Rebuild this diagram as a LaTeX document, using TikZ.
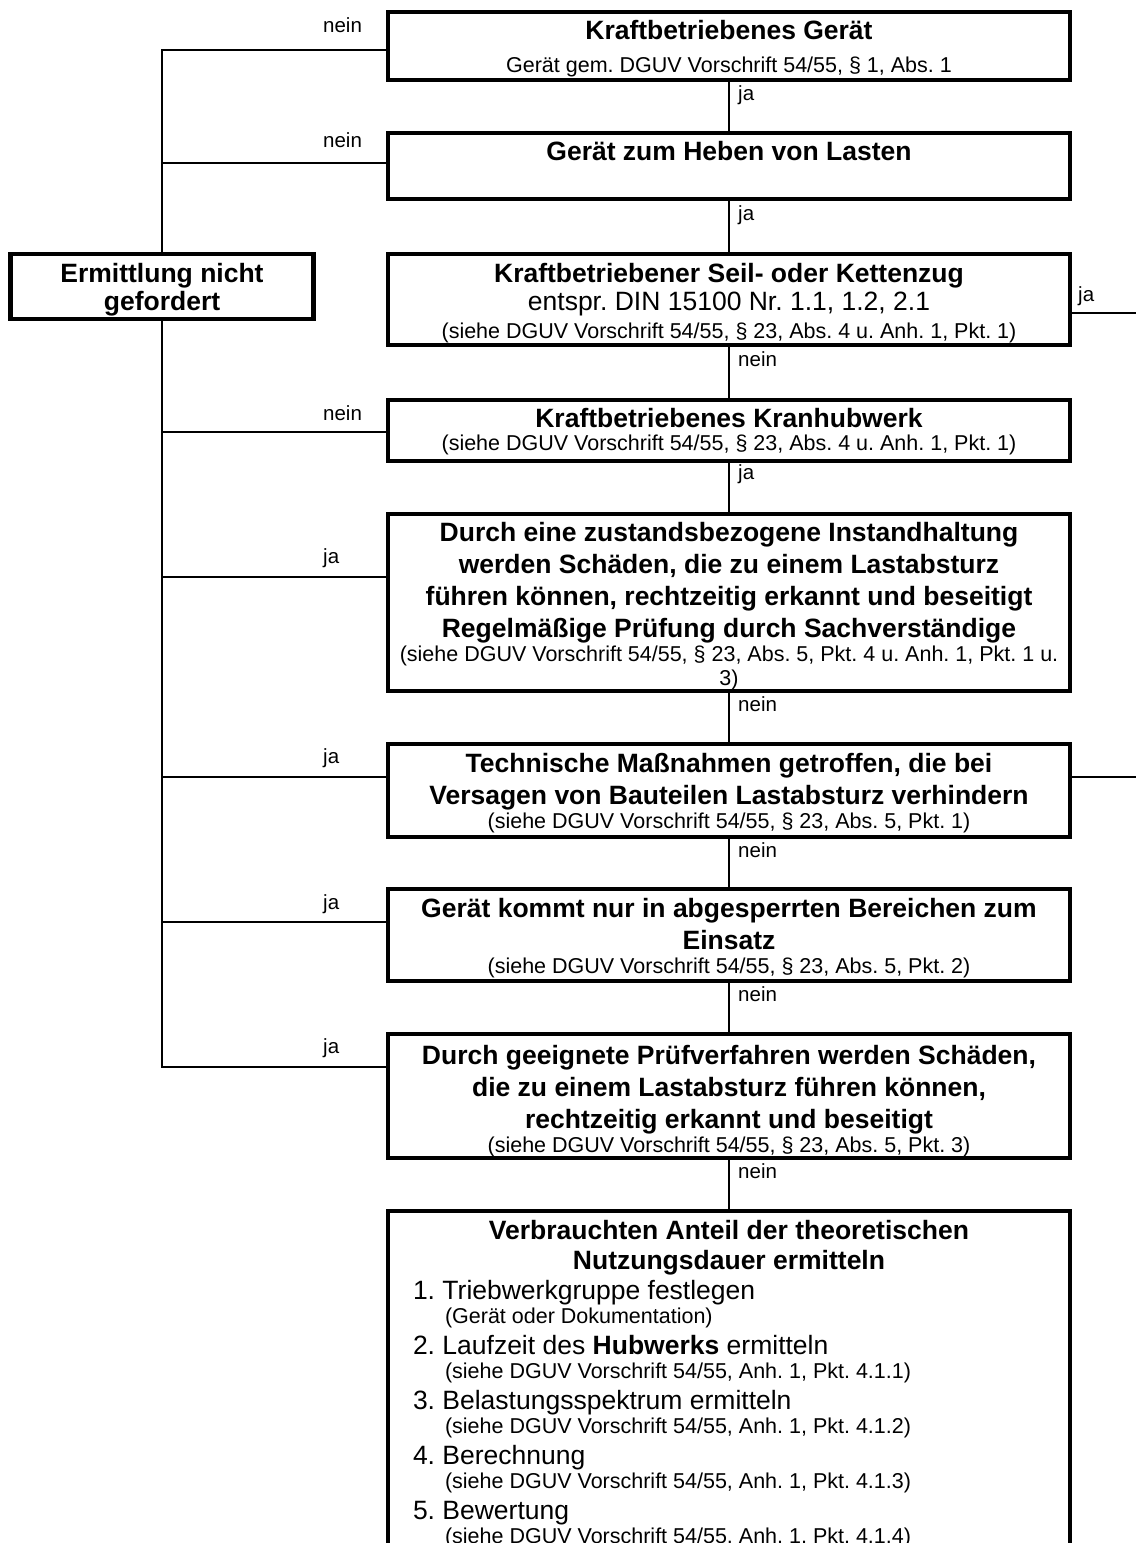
\documentclass[tikz,border=0pt]{standalone}
\usepackage{fontspec}
\setmainfont{Liberation Sans}
\frenchspacing
\newcommand\Tb{\fontsize{26.5}{40}\selectfont\bfseries}
\newcommand\Tr{\fontsize{26.5}{40}\selectfont\mdseries}
\newcommand\Ts{\fontsize{21.5}{40}\selectfont\mdseries}
\newcommand\Ttop[1]{\rule{0pt}{#1pt}}
\newcommand\Tbot[1]{\rule[-#1pt]{0pt}{#1pt}}
\tikzset{
  boxn/.style={draw, line width=4.2pt, fill=white, minimum width=682pt, inner xsep=0pt, inner ysep=0pt,
    align=center, anchor=north, font=\fontsize{21.5}{40}\selectfont\frenchspacing},
  conn/.style={line width=2.3pt},
  lbl/.style={anchor=base west, inner sep=0pt, font=\fontsize{20.5}{24}\selectfont},
}
\begin{document}
\begin{tikzpicture}[x=1pt,y=-1pt]
\useasboundingbox (0,0) rectangle (1136,1543);
\clip (0,0) rectangle (1136,1543);

% main boxes
\node[boxn] (b1) at (729,10) {\Ttop{27}\Tb Kraftbetriebenes Gerät\\[-7pt]\Ts Gerät gem. DGUV Vorschrift 54/55, § 1, Abs. 1\Tbot{8}};
\node[boxn] (b2) at (729,131) {\Ttop{27}\Tb Gerät zum Heben von Lasten\Tbot{39}};
\node[boxn] (b3) at (729,252) {\Ttop{28}\Tb Kraftbetriebener Seil- oder Kettenzug\\[-12pt]\Tr entspr. DIN 15100 Nr. 1.1, 1.2, 2.1\\[-12pt]\Ts (siehe DGUV Vorschrift 54/55, § 23, Abs. 4 u. Anh. 1, Pkt. 1)\Tbot{7}};
\node[boxn] (b4) at (729,398) {\Ttop{27}\Tb Kraftbetriebenes Kranhubwerk\\[-17pt]\Ts (siehe DGUV Vorschrift 54/55, § 23, Abs. 4 u. Anh. 1, Pkt. 1)\Tbot{11}};
\node[boxn] (b5) at (729,512) {\Ttop{27}\Tb Durch eine zustandsbezogene Instandhaltung\\[-8pt]\Tb werden Schäden, die zu einem Lastabsturz\\[-8pt]\Tb führen können, rechtzeitig erkannt und beseitigt\\[-8pt]\Tb Regelmäßige Prüfung durch Sachverständige\\[-16pt]\Ts (siehe DGUV Vorschrift 54/55, § 23, Abs. 5, Pkt. 4 u. Anh. 1, Pkt. 1 u.\\[-16pt]\Ts 3)\Tbot{6}};
\node[boxn] (b6) at (729,742) {\Ttop{28}\Tb Technische Maßnahmen getroffen, die bei\\[-8pt]\Tb Versagen von Bauteilen Lastabsturz verhindern\\[-16pt]\Ts (siehe DGUV Vorschrift 54/55, § 23, Abs. 5, Pkt. 1)\Tbot{9}};
\node[boxn] (b7) at (729,887) {\Ttop{28}\Tb Gerät kommt nur in abgesperrten Bereichen zum\\[-8pt]\Tb Einsatz\\[-16pt]\Ts (siehe DGUV Vorschrift 54/55, § 23, Abs. 5, Pkt. 2)\Tbot{8}};
\node[boxn] (b8) at (729,1032) {\Ttop{30}\Tb Durch geeignete Prüfverfahren werden Schäden,\\[-8pt]\Tb die zu einem Lastabsturz führen können,\\[-8pt]\Tb rechtzeitig erkannt und beseitigt\\[-16pt]\Ts (siehe DGUV Vorschrift 54/55, § 23, Abs. 5, Pkt. 3)\Tbot{6}};
\node[boxn, align=left] (b9) at (729,1209) {\Ttop{28}\makebox[682pt][c]{\Tb Verbrauchten Anteil der theoretischen}\\[-10pt]
  \makebox[682pt][c]{\Tb Nutzungsdauer ermitteln}\\[-10pt]
  \hspace*{25pt}\Tr 1. Triebwerkgruppe festlegen\\[-16pt]
  \hspace*{57pt}\Ts (Gerät oder Dokumentation)\\[-9pt]
  \hspace*{25pt}\Tr 2. Laufzeit des \textbf{Hubwerks} ermitteln\\[-16pt]
  \hspace*{57pt}\Ts (siehe DGUV Vorschrift 54/55, Anh. 1, Pkt. 4.1.1)\\[-9pt]
  \hspace*{25pt}\Tr 3. Belastungsspektrum ermitteln\\[-16pt]
  \hspace*{57pt}\Ts (siehe DGUV Vorschrift 54/55, Anh. 1, Pkt. 4.1.2)\\[-9pt]
  \hspace*{25pt}\Tr 4. Berechnung\\[-16pt]
  \hspace*{57pt}\Ts (siehe DGUV Vorschrift 54/55, Anh. 1, Pkt. 4.1.3)\\[-9pt]
  \hspace*{25pt}\Tr 5. Bewertung\\[-16pt]
  \hspace*{57pt}\Ts (siehe DGUV Vorschrift 54/55, Anh. 1, Pkt. 4.1.4)\Tbot{15}};

% side box
\node[boxn, minimum width=303pt] (erm) at (162,252) {\Ttop{28}\Tb Ermittlung nicht\\[-12pt]\Tb gefordert\Tbot{9}};

% tap points
\coordinate (y1) at (0,50);
\coordinate (y2) at (0,163);
\coordinate (y4) at (0,432);
\coordinate (y5) at (0,577);
\coordinate (y6) at (0,777);
\coordinate (y7) at (0,922);
\coordinate (y8) at (0,1067);
\coordinate (r3) at (1136,313);
\coordinate (r6) at (1136,777);

% connectors
\draw[conn] (b1.south) -- (b2.north);
\draw[conn] (b2.south) -- (b3.north);
\draw[conn] (b3.south) -- (b4.north);
\draw[conn] (b4.south) -- (b5.north);
\draw[conn] (b5.south) -- (b6.north);
\draw[conn] (b6.south) -- (b7.north);
\draw[conn] (b7.south) -- (b8.north);
\draw[conn] (b8.south) -- (b9.north);
\draw[conn] (b1.west |- y1) -| (erm.north);
\draw[conn] (b2.west |- y2) -| (erm.north);
\draw[conn] (b4.west |- y4) -| (erm.south);
\draw[conn] (b5.west |- y5) -| (erm.south);
\draw[conn] (b6.west |- y6) -| (erm.south);
\draw[conn] (b7.west |- y7) -| (erm.south);
\draw[conn] (b8.west |- y8) -| (erm.south);
\draw[conn] (b3.east |- r3) -- (r3);
\draw[conn] (b6.east |- r6) -- (r6);

% labels
\node[lbl] (l1) at (323,32) {nein};
\node[lbl] (l2) at (323,147) {nein};
\node[lbl] (l3) at (323,420) {nein};
\node[lbl] (l4) at (323,563) {ja};
\node[lbl] (l5) at (323,763) {ja};
\node[lbl] (l6) at (323,909) {ja};
\node[lbl] (l7) at (323,1053) {ja};
\node[lbl] (c1) at (738,100) {ja};
\node[lbl] (c2) at (738,220) {ja};
\node[lbl] (c3) at (738,366) {nein};
\node[lbl] (c4) at (738,479) {ja};
\node[lbl] (c5) at (738,711) {nein};
\node[lbl] (c6) at (738,857) {nein};
\node[lbl] (c7) at (738,1001) {nein};
\node[lbl] (c8) at (738,1178) {nein};
\node[lbl] (rj) at (1078,301) {ja};
\end{tikzpicture}
\end{document}
